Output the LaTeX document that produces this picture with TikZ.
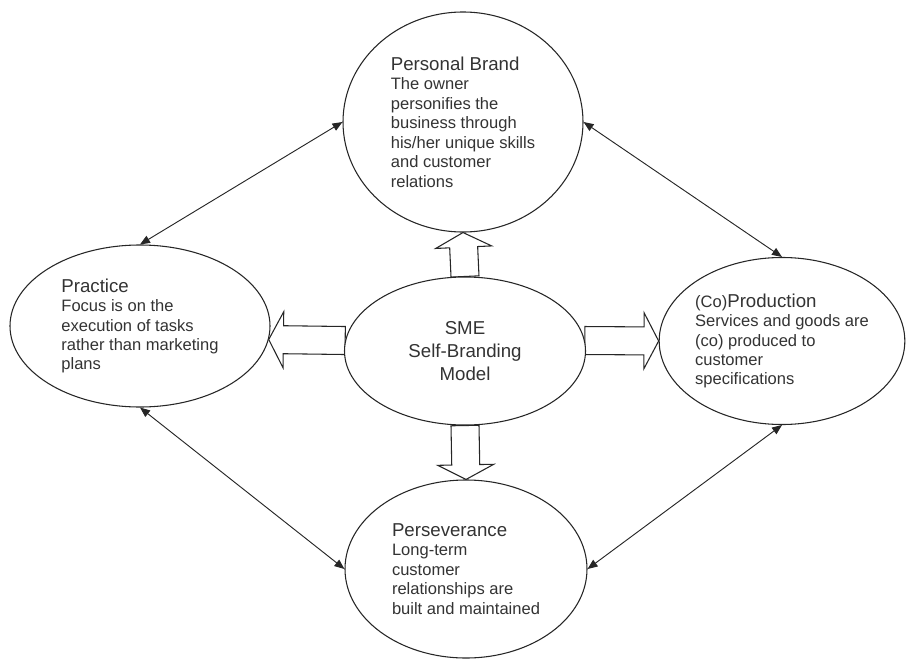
\documentclass[tikz,border=0pt]{standalone}
\usepackage{fontspec}
\setmainfont{Liberation Sans}
\usepackage{tikz}
\usetikzlibrary{positioning, arrows.meta, calc, backgrounds, shapes.geometric}
\newcommand{\bodyfont}{\fontsize{12.4}{14.6}\selectfont}
\newcommand{\headfont}{\fontsize{14}{15}\selectfont}
% hollow block arrow from #1 (tail) to #2 (tip)
\newcommand{\hollowarrow}[2]{%
  \coordinate (hb) at ($(#2)!11pt!(#1)$);
  \draw[hollow] ($(#1)!10.5pt!90:(#2)$) -- ($(hb)!10.5pt!90:(#2)$) -- ($(hb)!21pt!90:(#2)$)
    -- (#2) -- ($(hb)!21pt!-90:(#2)$) -- ($(hb)!10.5pt!-90:(#2)$) -- ($(#1)!10.5pt!-90:(#2)$) -- cycle;
}

\begin{document}
\begin{tikzpicture}[
    x=0.75pt, y=-0.75pt,
    bubble/.style={ellipse, draw=black!85, line width=0.8pt, fill=white, inner sep=0pt, align=left, text=black!80, font=\bodyfont},
    hollow/.style={draw=black!85, line width=0.8pt, fill=white, line join=miter},
    link/.style={{Triangle[length=7.5pt,width=6pt]}-{Triangle[length=7.5pt,width=6pt]}, line width=0.7pt, draw=black!85}
]
\useasboundingbox (0,0) rectangle (906,660);

% Nodes
\node[bubble, align=center, font=\fontsize{14}{17}\selectfont, minimum width=180.75pt, minimum height=111pt] (sme) at (465,351) {SME\\Self-Branding\\Model};
\node[bubble, minimum width=180pt, minimum height=165pt] (brand) at (463,122)
  {{\headfont Personal Brand}\\The owner\\personifies the\\business through\\his/her unique skills\\and customer\\relations};
\node[bubble, minimum width=195pt, minimum height=121.5pt] (practice) at (140,326)
  {{\headfont Practice}\\Focus is on the\\execution of tasks\\rather than marketing\\plans};
\node[bubble, minimum width=183.75pt, minimum height=125.25pt] (prod) at (782,341)
  {(Co){\headfont Production}\\Services and goods are\\(co) produced to\\customer\\specifications};
\node[bubble, minimum width=181.5pt, minimum height=133.5pt] (pers) at (466,569)
  {{\headfont Perseverance}\\Long-term\\customer\\relationships are\\built and maintained};

% Block arrows
\begin{scope}[on background layer]
  \hollowarrow{sme.north}{brand.south}
  \hollowarrow{sme.south}{pers.north}
  \hollowarrow{sme.175}{practice.-6}
  \hollowarrow{sme.5}{prod.west}
\end{scope}

% Links
\draw[link] (practice.north) -- (brand.west);
\draw[link] (brand.east) -- (prod.north);
\draw[link] (practice.south) -- (pers.west);
\draw[link] (pers.east) -- (prod.south);
\end{tikzpicture}
\end{document}
